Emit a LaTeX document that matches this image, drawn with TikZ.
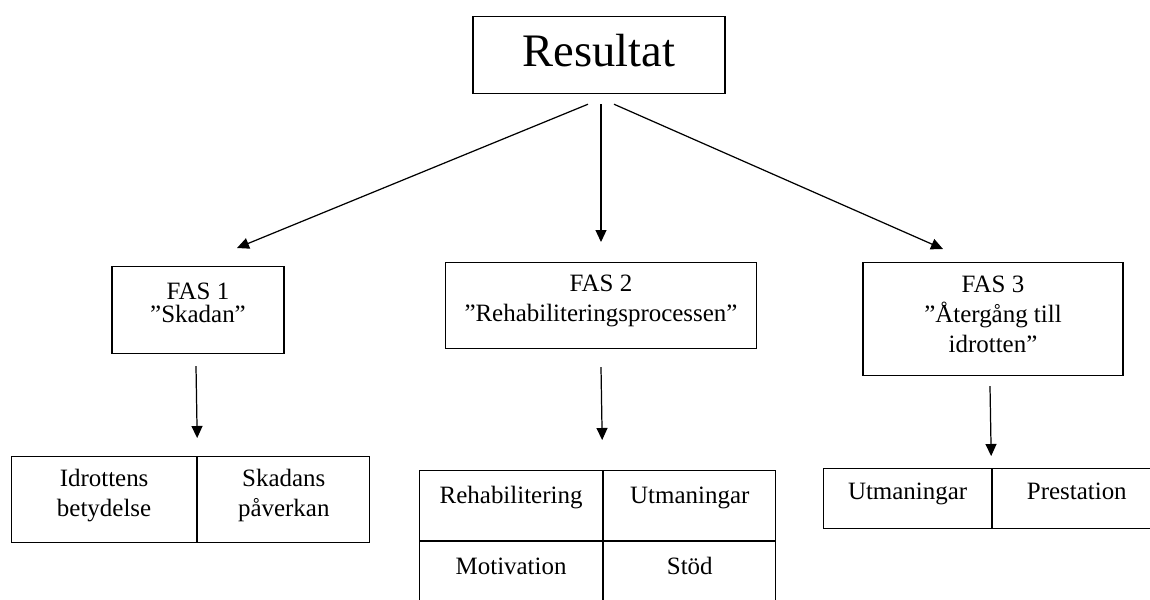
\documentclass[tikz,border=0pt]{standalone}
\usepackage{fontspec}
\setmainfont{Liberation Serif}
\usetikzlibrary{arrows.meta,calc}
\tikzstyle{box} = [rectangle, draw, line width=0.7pt, inner sep=0pt,
    align=center, anchor=north, font=\fontsize{14.2}{17}\selectfont]
\tikzstyle{cell} = [rectangle, draw, line width=0.7pt, inner sep=0pt,
    align=center, anchor=north west, font=\fontsize{14.2}{17}\selectfont]
\tikzstyle{arr} = [-{Triangle[length=0.24cm,width=0.22cm]}, line width=0.7pt]

\begin{document}
\begin{tikzpicture}[x=0.02cm, y=-0.02cm]
		\clip (0,0) rectangle (1150,599);
		\node [box, minimum width=5.04cm, text height=1.0cm, text depth=0.54cm,
			font=\fontsize{26.5}{30}\selectfont] (res) at (599,16) {Resultat};
		
		\node [box, minimum width=3.44cm, text height=1.12cm, text depth=0.62cm,
			font=\fontsize{14.2}{13}\selectfont] (fas1) at (198,266) {FAS 1\\”Skadan”};
		\node [box, minimum width=6.22cm, text height=1.18cm, text depth=0.54cm]
			(fas2) at (601,262) {FAS 2\\”Rehabiliteringsprocessen”};
		\node [box, minimum width=5.2cm, text height=1.8cm, text depth=0.46cm]
			(fas3) at (993,262) {FAS 3\\”Återgång till\\idrotten”};
		
		% tables
		\node [cell, minimum width=3.7cm, text height=1.2cm, text depth=0.52cm]
			(t1a) at (11,456) {Idrottens\\betydelse};
		\node [cell, minimum width=3.44cm, text height=1.2cm, text depth=0.52cm]
			(t1b) at (t1a.north east) {Skadans\\påverkan};
		
		\node [cell, minimum width=3.66cm, text height=0.66cm, text depth=0.74cm]
			(t2a) at (419,470) {Rehabilitering};
		\node [cell, minimum width=3.44cm, text height=0.66cm, text depth=0.74cm]
			(t2b) at (t2a.north east) {Utmaningar};
		\node [cell, minimum width=3.66cm, text height=0.66cm, text depth=0.74cm]
			(t2c) at (t2a.south west) {Motivation};
		\node [cell, minimum width=3.44cm, text height=0.66cm, text depth=0.74cm]
			(t2d) at (t2a.south east) {Stöd};
		
		\node [cell, minimum width=3.36cm, text height=0.62cm, text depth=0.58cm]
			(t3a) at (823,468) {Utmaningar};
		\node [cell, minimum width=3.36cm, text height=0.62cm, text depth=0.58cm]
			(t3b) at (t3a.north east) {Prestation};
		
		\draw [arr] ($(res.south)+(-11,10)$) -- ($(fas1.north)+(39,-18)$);
		\draw [arr] ($(res.south)+(2,10)$) -- ($(fas2.north)+(0,-20)$);
		\draw [arr] ($(res.south)+(15,10)$) -- ($(fas3.north)+(-50,-13)$);
		\draw [arr] ($(fas1.south)+(-2,12)$) -- ($(t1a.north east)+(0,-18)$);
		\draw [arr] ($(fas2.south)+(0,18)$) -- ($(t2a.north east)+(-1,-30)$);
		\draw [arr] ($(fas3.south)+(-3,10)$) -- ($(t3a.north east)+(-1,-12)$);
		
\end{tikzpicture}
\end{document}
